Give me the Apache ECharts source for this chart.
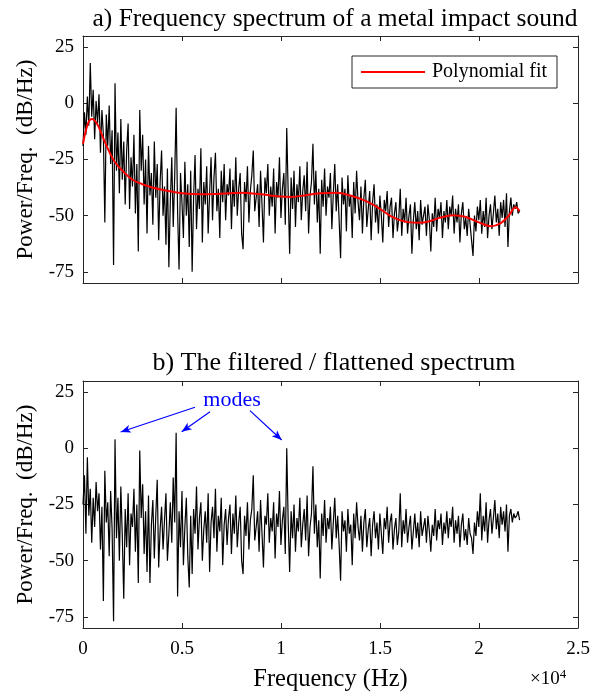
<!DOCTYPE html>
<html>
<head>
<meta charset="utf-8">
<script src="https://cdn.jsdelivr.net/npm/echarts@6/dist/echarts.min.js"></script>
<style>html,body{margin:0;padding:0;background:#fff}#c{width:612px;height:695px}</style>
</head>
<body>
<div id="c"></div>
<script>
// ---- data ----
const freqStep = 73.5; // Hz between spectrum samples (0 .. 22050 Hz)
const rawSpectrum = [
-19,-4,-14,3,-10,18,-6,6,-16,1,
-9,4,-22,-3,-14,-53,-5,-19,-1,-27,
-12,-72,9,-30,-13,-40,-7,-34,-17,-45,
-21,-9,-47,-24,-37,-14,-49,-27,-66,-3,
-30,-14,-45,-25,-58,-19,-41,-31,-54,-17,
-42,-27,-61,-35,-21,-50,-37,-63,-29,-73,
-44,-24,-55,-33,-2,-48,-74,-31,-44,-60,
-26,-50,-36,-64,-30,-75,-42,-23,-56,-38,
-47,-20,-62,-35,-45,-28,-58,-40,-24,-52,
-33,-22,-48,-38,-60,-30,-44,-27,-52,-36,
-41,-29,-56,-34,-46,-24,-50,-38,-31,-58,
-65,-35,-44,-28,-53,-39,-32,-21,-48,-42,
-36,-55,-30,-45,-62,-33,-40,-27,-50,-37,
-46,-29,-58,-35,-42,-24,-51,-38,-31,-54,
-11,-40,-67,-33,-47,-30,-55,-36,-44,-28,
-52,-39,-32,-48,-26,-58,-41,-35,-18,-45,
-30,-53,-38,-67,-34,-46,-29,-50,-37,-42,
-31,-56,-40,-27,-48,-36,-52,-69,-33,-45,
-38,-57,-32,-46,-41,-60,-35,-49,-30,-44,
-52,-37,-58,-42,-34,-55,-47,-39,-61,-44,
-36,-53,-45,-58,-41,-50,-62,-43,-48,-39,
-55,-46,-42,-60,-49,-44,-57,-51,-38,-59,
-47,-53,-42,-58,-50,-45,-67,-52,-44,-56,
-48,-61,-43,-54,-50,-46,-59,-45,-52,-66,
-49,-55,-42,-57,-47,-51,-44,-60,-48,-53,
-43,-56,-46,-50,-41,-58,-47,-53,-45,-62,
-49,-44,-56,-51,-59,-47,-54,-61,-68,-50,
-57,-46,-52,-43,-58,-48,-55,-42,-60,-50,
-45,-56,-49,-41,-53,-47,-59,-44,-51,-43,
-55,-40,-64,-48,-42,-50,-45,-47,-44,-49,-48
];
const fitFreq = [0,250,450,700,1000,1300,1600,2000,2500,3000,3500,4000,5000,6000,7000,8000,9000,10000,10500,11000,12000,12800,13500,14300,15000,15500,16000,16500,17000,17500,18000,18700,19300,20000,20600,21100,21500,21850,22050];
const fitValues = [-18,-9,-7,-9,-15,-21,-26,-30,-34,-36,-37.5,-38.5,-40,-40.5,-40.2,-39.8,-40.5,-41.5,-41.7,-41.2,-40,-39.8,-41,-43.5,-47,-50,-52,-53,-53.2,-52.5,-51,-49.8,-50.5,-53,-54.7,-53.3,-50,-46.3,-48];
const flatSpectrum = [
-25,-12,-38,-4,-30,-18,-42,-22,-35,-15,
-28,-20,-45,-26,-68,-10,-33,-24,-48,-19,
-36,-77,4,-40,-22,-50,-17,-39,-67,-27,
-44,-20,-52,-29,-35,-18,-46,-25,-60,-1,
-31,-16,-47,-28,-55,-21,-60,-34,-23,-49,
-30,-14,-53,-36,-26,-45,-32,-20,-50,-38,
-24,-42,-13,-33,7,-66,-28,-44,-19,-52,
-35,-22,-48,-62,-30,-56,-27,-38,-17,-45,
-31,-24,-50,-36,-28,-42,-20,-55,-33,-26,
-40,-18,-46,-30,-37,-22,-52,-34,-27,-43,
-31,-25,-47,-29,-38,-21,-44,-33,-26,-50,
-56,-30,-39,-24,-45,-32,-27,-12,-41,-35,
-28,-46,-23,-38,-53,-30,-34,-20,-42,-31,
-37,-24,-49,-29,-35,-19,-43,-32,-26,-47,
0,-33,-55,-28,-40,-25,-46,-31,-37,-22,
-44,-34,-27,-41,-21,-48,-35,-29,-8,-38,
-25,-44,-32,-58,-29,-39,-23,-42,-31,-36,
-26,-45,-33,-22,-40,-30,-43,-59,-28,-37,
-32,-46,-27,-38,-34,-52,-29,-40,-24,-35,
-41,-30,-46,-33,-27,-44,-36,-31,-48,-34,
-28,-40,-33,-45,-29,-38,-47,-31,-36,-26,
-42,-33,-29,-45,-36,-31,-43,-37,-20,-44,
-32,-38,-27,-42,-35,-30,-45,-37,-29,-40,
-33,-44,-28,-39,-35,-31,-42,-30,-37,-46,
-34,-39,-27,-41,-32,-36,-29,-43,-33,-38,
-28,-40,-31,-35,-26,-42,-32,-38,-30,-44,
-34,-29,-41,-36,-43,-31,-38,-40,-47,-33,
-39,-28,-35,-20,-41,-30,-37,-24,-42,-32,
-27,-38,-31,-23,-36,-29,-40,-26,-34,-28,
-37,-25,-46,-30,-27,-33,-29,-31,-30,-28,-32
];
const yTicks = [-75,-50,-25,0,25];
const xTickLabels = ['0','0.5','1','1.5','2','2.5'];
// annotation arrows: [start freq, start value, end freq, end value]
const modeArrows = [[5657,18.3,1904,7.3],[6414,16.3,4985,7.4],[8434,16.8,10035,3.7]];
const modesLabelAt = [7525,21.5];

// ---- build ----
const FONT = '"Liberation Serif", "Times New Roman", serif';
const AX = '#262626';
const toPairs = arr => arr.map((v,i)=>[i*freqStep, v]);
const fitPairs = fitFreq.map((f,i)=>[f, fitValues[i]]);

function xAx(grid, pos, labels){
  return {type:'value', gridIndex:grid, position:pos, min:0, max:25000, interval:5000,
    axisLine:{show:true,onZero:false,lineStyle:{color:AX,width:1}},
    axisTick:{show:true,inside:true,length:5,lineStyle:{color:AX}},
    axisLabel:{show:labels, margin:12, color:'#000', fontFamily:FONT, fontSize:19,
      formatter:v=>xTickLabels[Math.round(v/5000)]},
    splitLine:{show:false},
    name: labels ? 'Frequency (Hz)' : '', nameLocation:'middle', nameGap:39,
    nameTextStyle:{fontFamily:FONT,fontSize:24.5,color:'#000'}};
}
function yAx(grid, pos, labels){
  return {type:'value', gridIndex:grid, position:pos, min:-80, max:30,
    axisLine:{show:true,onZero:false,lineStyle:{color:AX,width:1}},
    axisTick:{show:true,inside:true,length:5,customValues:yTicks,lineStyle:{color:AX}},
    axisLabel:{show:labels, margin:9, color:'#000', fontFamily:FONT, fontSize:19, customValues:yTicks},
    splitLine:{show:false},
    name: labels ? 'Power/Freq.  (dB/Hz)' : '', nameLocation:'middle', nameGap:46,
    nameTextStyle:{fontFamily:FONT,fontSize:23,color:'#000'}};
}

const chart = echarts.init(document.getElementById('c'), null, {renderer:'canvas'});
chart.setOption({
  animation:false,
  backgroundColor:'#fff',
  title:[
    {text:'a) Frequency spectrum of a metal impact sound', left:330, top:1, textAlign:'center',
     textStyle:{fontFamily:FONT,fontSize:25.5,fontWeight:'normal',color:'#000'}},
    {text:'b) The filtered / flattened spectrum', left:329, top:345, textAlign:'center',
     textStyle:{fontFamily:FONT,fontSize:26,fontWeight:'normal',color:'#000'}}
  ],
  legend:{data:[{name:'Polynomial fit', icon:'rect'}], left:352, top:56, orient:'horizontal',
    padding:[6,10,6,9], itemWidth:64, itemHeight:2,
    backgroundColor:'#fff', borderColor:AX, borderWidth:1, borderRadius:0,
    textStyle:{fontFamily:FONT,fontSize:20,color:'#000',padding:[0,0,0,2],lineHeight:20}},
  grid:[
    {left:83, top:36, width:495, height:247, containLabel:false},
    {left:83, top:381, width:495, height:247, containLabel:false}
  ],
  xAxis:[xAx(0,'bottom',false), xAx(0,'top',false), xAx(1,'bottom',true), xAx(1,'top',false)],
  yAxis:[yAx(0,'left',true), yAx(0,'right',false), yAx(1,'left',true), yAx(1,'right',false)],
  series:[
    {type:'line', name:'spectrum', xAxisIndex:0, yAxisIndex:0, data:toPairs(rawSpectrum),
     symbol:'none', lineStyle:{color:'#000',width:1.2}, z:2},
    {type:'line', name:'Polynomial fit', xAxisIndex:0, yAxisIndex:0, data:fitPairs,
     symbol:'none', smooth:0.4, lineStyle:{color:'#ff0000',width:2}, itemStyle:{color:'#ff0000'}, z:3},
    {type:'line', name:'flattened', xAxisIndex:2, yAxisIndex:2, data:toPairs(flatSpectrum),
     symbol:'none', lineStyle:{color:'#000',width:1.2}, z:2,
     markLine:{silent:true, symbol:['none','arrow'], symbolSize:[6,10],
       lineStyle:{color:'#0000ff',width:1.2,type:'solid'}, label:{show:false},
       data: modeArrows.map(a=>[{coord:[a[0],a[1]]},{coord:[a[2],a[3]]}])},
     markPoint:{silent:true, symbol:'circle', symbolSize:1, itemStyle:{color:'rgba(0,0,0,0)'},
       label:{show:true, position:'inside', formatter:'modes', color:'#0000ff', fontFamily:FONT, fontSize:22},
       data:[{coord:modesLabelAt}]}
    }
  ],
  graphic:[
    {type:'text', left:530, top:668,
     style:{rich:{a:{fontFamily:FONT,fontSize:19,fill:'#000'}, b:{fontFamily:FONT,fontSize:13,fill:'#000',verticalAlign:'top',padding:[0,0,9,0]}},
       text:'{a|×10}{b|4}'}}
  ]
});
</script>
</body>
</html>
